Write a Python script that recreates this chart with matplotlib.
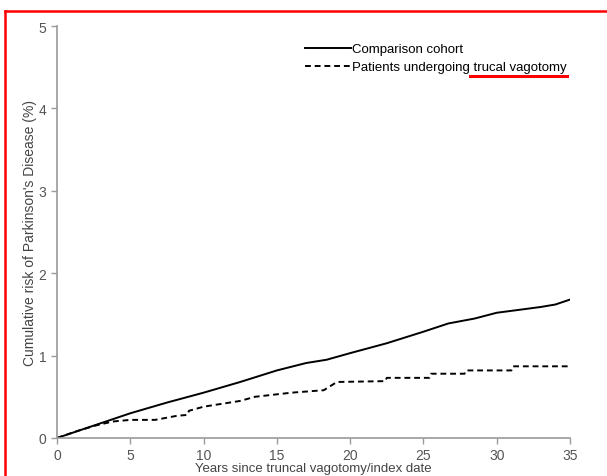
import matplotlib
matplotlib.use("Agg")
import matplotlib.pyplot as plt
from matplotlib.lines import Line2D

plt.rcParams['font.family'] = ['Liberation Sans', 'DejaVu Sans']

# cumulative risk curves
comparison_years = [0, 1, 2.5, 5, 7.5, 10, 12.5, 15, 17, 18.4, 20, 22.5, 25, 26.7, 28.5, 30, 31.3, 33, 34, 35]
comparison_risk = [0, 0.06, 0.15, 0.30, 0.43, 0.55, 0.68, 0.82, 0.91, 0.95, 1.03, 1.15, 1.29, 1.39, 1.45, 1.52, 1.55, 1.59, 1.62, 1.68]

vagotomy_years = [0, 1.3, 2.6, 3.8, 5, 6.7, 8.2, 8.9, 9.0, 10, 12.5, 13.5, 16, 18.2, 19.1, 22.4, 22.5, 25.4, 25.5, 27.8, 27.9, 31.0, 31.1, 35]
vagotomy_risk = [0, 0.08, 0.15, 0.20, 0.22, 0.22, 0.27, 0.28, 0.33, 0.38, 0.45, 0.50, 0.55, 0.58, 0.68, 0.69, 0.73, 0.73, 0.78, 0.78, 0.82, 0.82, 0.87, 0.87]

x_ticks = [0, 5, 10, 15, 20, 25, 30, 35]
y_ticks = [0, 1, 2, 3, 4, 5]

fig = plt.figure(figsize=(6.07, 4.77), dpi=100)
ax = fig.add_axes([57 / 607, 1 - 439 / 477, 513 / 607, 412 / 477])

ax.plot(comparison_years, comparison_risk, color='black', lw=1.4, label='Comparison cohort')
ax.plot(vagotomy_years, vagotomy_risk, color='black', lw=1.4, ls=(0, (3, 2)),
        label='Patients undergoing trucal vagotomy')

ax.set_xlim(0, 35)
ax.set_ylim(0, 5)
ax.set_xticks(x_ticks)
ax.set_yticks(y_ticks)
for side in ['top', 'right']:
    ax.spines[side].set_visible(False)
for side in ['left', 'bottom']:
    ax.spines[side].set_color('#9a9a9a')
    ax.spines[side].set_linewidth(1.2)
ax.tick_params(colors='#9a9a9a', labelcolor='#555555', labelsize=10, length=4, width=1)

ax.set_xlabel('Years since truncal vagotomy/index date', fontsize=9.5, color='#444444', labelpad=0)
ax.set_ylabel("Cumulative risk of Parkinson's Disease (%)", fontsize=10, color='#444444', labelpad=1)

ax.legend(loc='upper left', bbox_to_anchor=(305 / 607, 1 - 44 / 477), bbox_transform=fig.transFigure,
          frameon=False, fontsize=9.5, handlelength=3.5, handletextpad=0.05, labelspacing=0.45,
          borderpad=0, borderaxespad=0)

# red annotation marks on the original image
fig.add_artist(Line2D([470 / 607, 567 / 607], [1 - 77 / 477, 1 - 77 / 477], color='red', lw=2.2))
fig.add_artist(Line2D([5 / 607, 607 / 607], [1 - 12 / 477, 1 - 12 / 477], color='red', lw=1.8))
fig.add_artist(Line2D([5 / 607, 5 / 607], [0, 1 - 12 / 477], color='red', lw=1.8))

fig.savefig('out.png', dpi=100)
